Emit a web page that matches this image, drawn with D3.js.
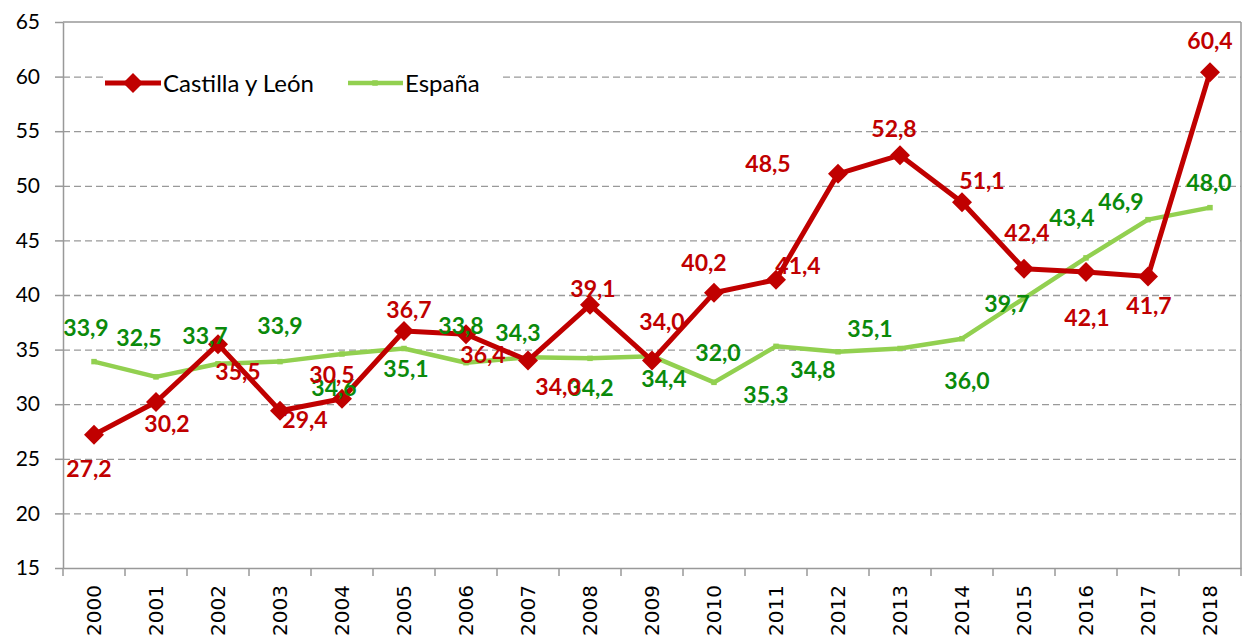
<!DOCTYPE html>
<head>
  <meta charset="utf-8">
  <script src="https://d3js.org/d3.v7.min.js"></script>
<style>
body { margin:0; background:#fff; }
.grid line { stroke:#999; stroke-width:1.3px; stroke-dasharray:7,4; }
.grid path { display:none; }
.axis path, .axis line { stroke:#999; stroke-width:1.5px; }
.axis--y text { font-family:Lato, sans-serif; font-size:21px; fill:#000; }
.axis--x text { font-family:"DejaVu Sans", sans-serif; font-size:20px; fill:#000; }
.lbl { font-family:Lato, sans-serif; font-weight:bold; font-size:23px; }
.legend text { font-family:Lato, sans-serif; font-size:24px; fill:#000; }
</style>
</head>

<body>
<script>
// years on the x axis
var years = ["2000","2001","2002","2003","2004","2005","2006","2007","2008","2009",
             "2010","2011","2012","2013","2014","2015","2016","2017","2018"];

// Castilla y León
var cyl = [27.2, 30.2, 35.5, 29.4, 30.5, 36.7, 36.4, 34.0, 39.1, 34.0,
           40.2, 41.4, 51.1, 52.8, 48.5, 42.4, 42.1, 41.7, 60.4];
// labels as printed on the original (2012 / 2014 appear swapped there)
var cylLabels = ["27,2","30,2","35,5","29,4","30,5","36,7","36,4","34,0","39,1","34,0",
                 "40,2","41,4","48,5","52,8","51,1","42,4","42,1","41,7","60,4"];

// España
var esp = [33.9, 32.5, 33.7, 33.9, 34.6, 35.1, 33.8, 34.3, 34.2, 34.4,
           32.0, 35.3, 34.8, 35.1, 36.0, 39.7, 43.4, 46.9, 48.0];
var espLabels = esp.map(v => v.toFixed(1).replace(".", ","));

var yTicks = [15, 20, 25, 30, 35, 40, 45, 50, 55, 60, 65];

// label placement (dx, dy from the point)
var cylOff = [[-5,33],[11,21],[20,27],[25,8],[-10,-25],[5,-22],[17,20],[30,25],[3,-17],[10,-40],
              [-10,-31],[22,-15],[-70,-11],[-6,-27],[20,-22],[3,-37],[1,45],[1,29],[0,-32]];
var espOff = [[-8,-35],[-17,-40],[-13,-29],[0,-37],[-8,33],[2,19],[-5,-38],[-10,-25],[1,29],[12,22],
              [4,-30],[-10,48],[-25,17],[-30,-21],[5,41],[-17,5],[-14,-41],[-27,-19],[-1,-26]];

var W = 1253, H = 639;
var pLeft = 63, pRight = 1241, pTop = 22, pBottom = 568;

var svg = d3.select("body").append("svg")
    .attr("width", W)
    .attr("height", H);

var x = d3.scaleBand().domain(years).range([pLeft, pRight]);
var y = d3.scaleLinear().domain([15, 65]).range([pBottom, pTop]);
var cx = d => x(d) + x.bandwidth() / 2;

// dashed gridlines
svg.append("g")
    .attr("class", "grid")
    .attr("transform", "translate(" + pLeft + ",0)")
    .call(d3.axisLeft(y).tickValues(yTicks.slice(1, -1)).tickSize(-(pRight - pLeft)).tickFormat(""));

// frame: top and right
svg.append("line").attr("x1", pLeft).attr("x2", pRight).attr("y1", pTop).attr("y2", pTop)
    .attr("stroke", "#999").attr("stroke-width", 1.5);
svg.append("line").attr("x1", pRight).attr("x2", pRight).attr("y1", pTop).attr("y2", pBottom)
    .attr("stroke", "#999").attr("stroke-width", 1.5);

// y axis
svg.append("g")
    .attr("class", "axis axis--y")
    .attr("transform", "translate(" + pLeft + ",0)")
    .call(d3.axisLeft(y).tickValues(yTicks).tickSize(8).tickSizeOuter(0).tickPadding(15));

// x axis, ticks between categories
var gx = svg.append("g")
    .attr("class", "axis axis--x")
    .attr("transform", "translate(0," + pBottom + ")")
    .call(d3.axisBottom(x).tickSize(0).tickSizeOuter(0));
gx.selectAll(".tick text")
    .attr("transform", "rotate(-90)")
    .attr("text-anchor", "end")
    .attr("x", -17)
    .attr("y", 0)
    .attr("dy", "0.36em");
gx.selectAll(".sep")
    .data(d3.range(years.length + 1))
  .enter().append("line")
    .attr("class", "sep")
    .attr("x1", i => pLeft + i * x.bandwidth())
    .attr("x2", i => pLeft + i * x.bandwidth())
    .attr("y1", 0)
    .attr("y2", 8);

var line = d3.line()
    .x((d, i) => cx(years[i]))
    .y(d => y(d));

// España
svg.append("path")
    .datum(esp)
    .attr("fill", "none")
    .attr("stroke", "#92D050")
    .attr("stroke-width", 4.5)
    .attr("stroke-linejoin", "round")
    .attr("d", line);
svg.selectAll(".espPt")
    .data(esp)
  .enter().append("path")
    .attr("class", "espPt")
    .attr("d", d3.symbol(d3.symbolSquare, 30))
    .attr("fill", "#92D050")
    .attr("transform", (d, i) => "translate(" + cx(years[i]) + "," + y(d) + ")");

// Castilla y León
svg.append("path")
    .datum(cyl)
    .attr("fill", "none")
    .attr("stroke", "#C00000")
    .attr("stroke-width", 5)
    .attr("stroke-linejoin", "round")
    .attr("d", line);
svg.selectAll(".cylPt")
    .data(cyl)
  .enter().append("path")
    .attr("class", "cylPt")
    .attr("d", d3.symbol(d3.symbolSquare, 200))
    .attr("fill", "#C00000")
    .attr("transform", (d, i) => "translate(" + cx(years[i]) + "," + y(d) + ") rotate(45)");

// data labels
svg.selectAll(".lblEsp")
    .data(esp)
  .enter().append("text")
    .attr("class", "lbl lblEsp")
    .attr("fill", "#0B8A0B")
    .attr("text-anchor", "middle")
    .attr("dominant-baseline", "central")
    .attr("x", (d, i) => cx(years[i]) + espOff[i][0])
    .attr("y", (d, i) => y(d) + espOff[i][1])
    .text((d, i) => espLabels[i]);

svg.selectAll(".lblCyl")
    .data(cyl)
  .enter().append("text")
    .attr("class", "lbl lblCyl")
    .attr("fill", "#C00000")
    .attr("text-anchor", "middle")
    .attr("dominant-baseline", "central")
    .attr("x", (d, i) => cx(years[i]) + cylOff[i][0])
    .attr("y", (d, i) => y(d) + cylOff[i][1])
    .text((d, i) => cylLabels[i]);

// legend
var leg = svg.append("g").attr("class", "legend").attr("transform", "translate(105,83)");
leg.append("rect").attr("x", -2).attr("y", -14).attr("width", 400).attr("height", 28).attr("fill", "#fff");
leg.append("line").attr("x1", 0).attr("x2", 56).attr("stroke", "#C00000").attr("stroke-width", 5);
leg.append("path").attr("d", d3.symbol(d3.symbolSquare, 200)).attr("fill", "#C00000")
    .attr("transform", "translate(28,0) rotate(45)");
leg.append("text").attr("x", 58).attr("dy", "0.36em").text("Castilla y León");
leg.append("line").attr("x1", 243).attr("x2", 298).attr("stroke", "#92D050").attr("stroke-width", 4.5);
leg.append("path").attr("d", d3.symbol(d3.symbolSquare, 30)).attr("fill", "#92D050")
    .attr("transform", "translate(270,0)");
leg.append("text").attr("x", 300).attr("dy", "0.36em").text("España");
</script>
</body>
